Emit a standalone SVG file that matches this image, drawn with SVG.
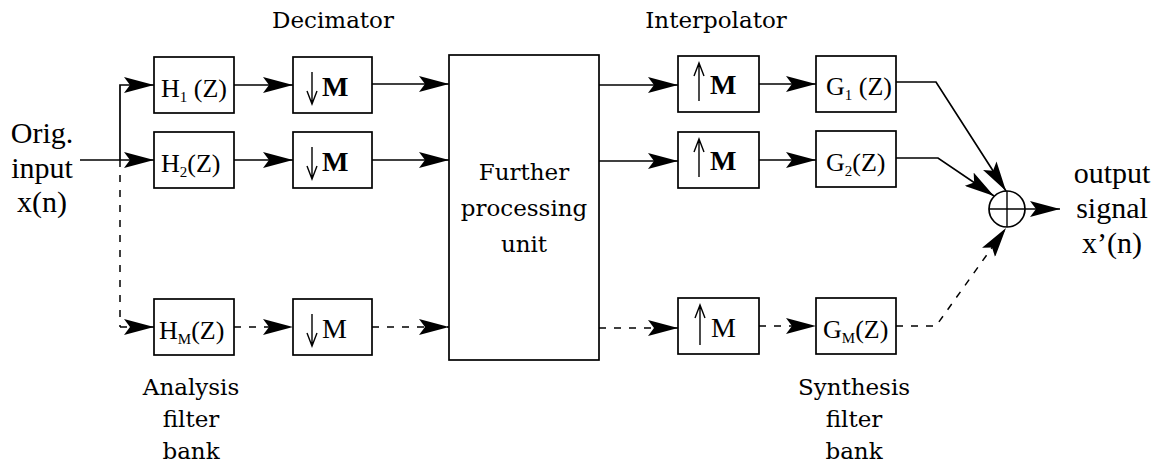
<svg xmlns="http://www.w3.org/2000/svg" width="1170" height="474" viewBox="0 0 1170 474">
  <style>
    .box { fill: #fff; stroke: #000; stroke-width: 1.7; }
    .wire { fill: none; stroke: #000; stroke-width: 1.7; }
    .dash { fill: none; stroke: #000; stroke-width: 1.5; stroke-dasharray: 7 8; }
    .thin { fill: none; stroke: #000; stroke-width: 1.4; }
    .lbl { font-family: "DejaVu Serif", "Liberation Serif", serif; font-size: 23px; fill: #000; text-anchor: middle; }
    .tm { font-family: "Liberation Serif", "Times New Roman", serif; fill: #000; }
    .io { font-size: 30px; text-anchor: middle; }
    .fn { font-size: 26px; }
    .sub { font-size: 15px; }
    .m { font-size: 28px; }
    .mb { font-size: 28px; font-weight: bold; }
  </style>
  <defs>
    <marker id="head" viewBox="0 0 30 16" refX="30" refY="8" markerWidth="30" markerHeight="16" markerUnits="userSpaceOnUse" orient="auto">
      <path d="M0,0 L30,8 L0,16 L6,8 Z" fill="#000"/>
    </marker>
  </defs>

  <!-- stage headings and bank captions -->
  <text class="lbl" x="333" y="28">Decimator</text>
  <text class="lbl" x="716" y="28">Interpolator</text>
  <text class="lbl" x="191" y="395">Analysis</text>
  <text class="lbl" x="191" y="427">filter</text>
  <text class="lbl" x="191" y="459">bank</text>
  <text class="lbl" x="854" y="395">Synthesis</text>
  <text class="lbl" x="854" y="427">filter</text>
  <text class="lbl" x="854" y="459">bank</text>

  <!-- input and output signal labels -->
  <g id="input">
    <text class="tm io" x="42" y="143">Orig.</text>
    <text class="tm io" x="42" y="178">input</text>
    <text class="tm io" x="42" y="212">x(n)</text>
  </g>
  <g id="output">
    <text class="tm io" x="1112" y="183">output</text>
    <text class="tm io" x="1112" y="218">signal</text>
    <text class="tm io" x="1112" y="253">x’(n)</text>
  </g>

  <!-- analysis filters -->
  <g id="h1">
    <rect class="box" x="154" y="57" width="80" height="56"/>
    <text class="tm fn" x="161" y="97">H<tspan class="sub" dy="5">1</tspan><tspan dy="-5"> (Z)</tspan></text>
  </g>
  <g id="h2">
    <rect class="box" x="154" y="132" width="80" height="56"/>
    <text class="tm fn" x="161" y="172">H<tspan class="sub" dy="5">2</tspan><tspan dy="-5">(Z)</tspan></text>
  </g>
  <g id="hm">
    <rect class="box" x="154" y="299" width="80" height="56"/>
    <text class="tm fn" x="159" y="339">H<tspan class="sub" dy="5">M</tspan><tspan dy="-5">(Z)</tspan></text>
  </g>

  <!-- decimators -->
  <g id="down1">
    <rect class="box" x="293" y="57" width="79" height="56"/>
    <path class="thin" d="M312,72 V104 M307,91 L312,104 L317,91"/>
    <text class="tm mb" x="322" y="96">M</text>
  </g>
  <g id="down2">
    <rect class="box" x="293" y="132" width="79" height="56"/>
    <path class="thin" d="M312,147 V179 M307,166 L312,179 L317,166"/>
    <text class="tm mb" x="322" y="171">M</text>
  </g>
  <g id="downm">
    <rect class="box" x="293" y="299" width="79" height="56"/>
    <path class="thin" d="M312,314 V346 M307,333 L312,346 L317,333"/>
    <text class="tm m" x="322" y="338">M</text>
  </g>

  <!-- central processing block -->
  <g id="proc">
    <rect class="box" x="449" y="55" width="150" height="305"/>
    <text class="lbl" x="524" y="180">Further</text>
    <text class="lbl" x="524" y="216">processing</text>
    <text class="lbl" x="524" y="252">unit</text>
  </g>

  <!-- interpolators -->
  <g id="up1">
    <rect class="box" x="678" y="56" width="81" height="56"/>
    <path class="thin" d="M699,101 V63 M694,76 L699,63 L704,76"/>
    <text class="tm mb" x="710" y="94">M</text>
  </g>
  <g id="up2">
    <rect class="box" x="678" y="132" width="81" height="56"/>
    <path class="thin" d="M699,177 V139 M694,152 L699,139 L704,152"/>
    <text class="tm mb" x="710" y="170">M</text>
  </g>
  <g id="upm">
    <rect class="box" x="678" y="298" width="81" height="56"/>
    <path class="thin" d="M700,345 V305 M695,318 L700,305 L705,318"/>
    <text class="tm m" x="711" y="337">M</text>
  </g>

  <!-- synthesis filters -->
  <g id="g1">
    <rect class="box" x="816" y="56" width="80" height="56"/>
    <text class="tm fn" x="826" y="95">G<tspan class="sub" dy="5">1</tspan><tspan dy="-5"> (Z)</tspan></text>
  </g>
  <g id="g2">
    <rect class="box" x="816" y="131" width="80" height="56"/>
    <text class="tm fn" x="826" y="171">G<tspan class="sub" dy="5">2</tspan><tspan dy="-5">(Z)</tspan></text>
  </g>
  <g id="gm">
    <rect class="box" x="816" y="298" width="80" height="56"/>
    <text class="tm fn" x="823" y="338">G<tspan class="sub" dy="5">M</tspan><tspan dy="-5">(Z)</tspan></text>
  </g>

  <!-- summing junction -->
  <g id="sum">
    <circle class="wire" cx="1007" cy="209" r="18"/>
    <path class="thin" d="M1007,191 V227"/>
  </g>

  <!-- signal paths -->
  <g id="connectors">
    <path class="wire" d="M80,160 H154" marker-end="url(#head)"/>
    <path class="wire" d="M120,160 V85 H154" marker-end="url(#head)"/>
    <path class="dash" d="M120,160 V327" stroke-dasharray="6 8"/>
    <path class="dash" d="M120,327 H154" marker-end="url(#head)"/>

    <path class="wire" d="M234,85 H293" marker-end="url(#head)"/>
    <path class="wire" d="M234,160 H293" marker-end="url(#head)"/>
    <path class="dash" d="M234,327 H293" marker-end="url(#head)"/>

    <path class="wire" d="M372,84 H449" marker-end="url(#head)"/>
    <path class="wire" d="M372,160 H449" marker-end="url(#head)"/>
    <path class="dash" d="M372,327 H449" marker-end="url(#head)"/>

    <path class="wire" d="M599,85 H678" marker-end="url(#head)"/>
    <path class="wire" d="M599,161 H678" marker-end="url(#head)"/>
    <path class="dash" d="M599,328 H678" marker-end="url(#head)"/>

    <path class="wire" d="M759,84 H816" marker-end="url(#head)"/>
    <path class="wire" d="M759,160 H816" marker-end="url(#head)"/>
    <path class="dash" d="M759,326 H816" marker-end="url(#head)"/>

    <path class="wire" d="M896,82 H936 L1006,191" marker-end="url(#head)"/>
    <path class="wire" d="M896,158 H938 L994,196" marker-end="url(#head)"/>
    <path class="dash" d="M896,326 H936 L1006,228" stroke-dasharray="5 9" marker-end="url(#head)"/>

    <path class="wire" d="M989,209 H1060" marker-end="url(#head)"/>
  </g>
</svg>
